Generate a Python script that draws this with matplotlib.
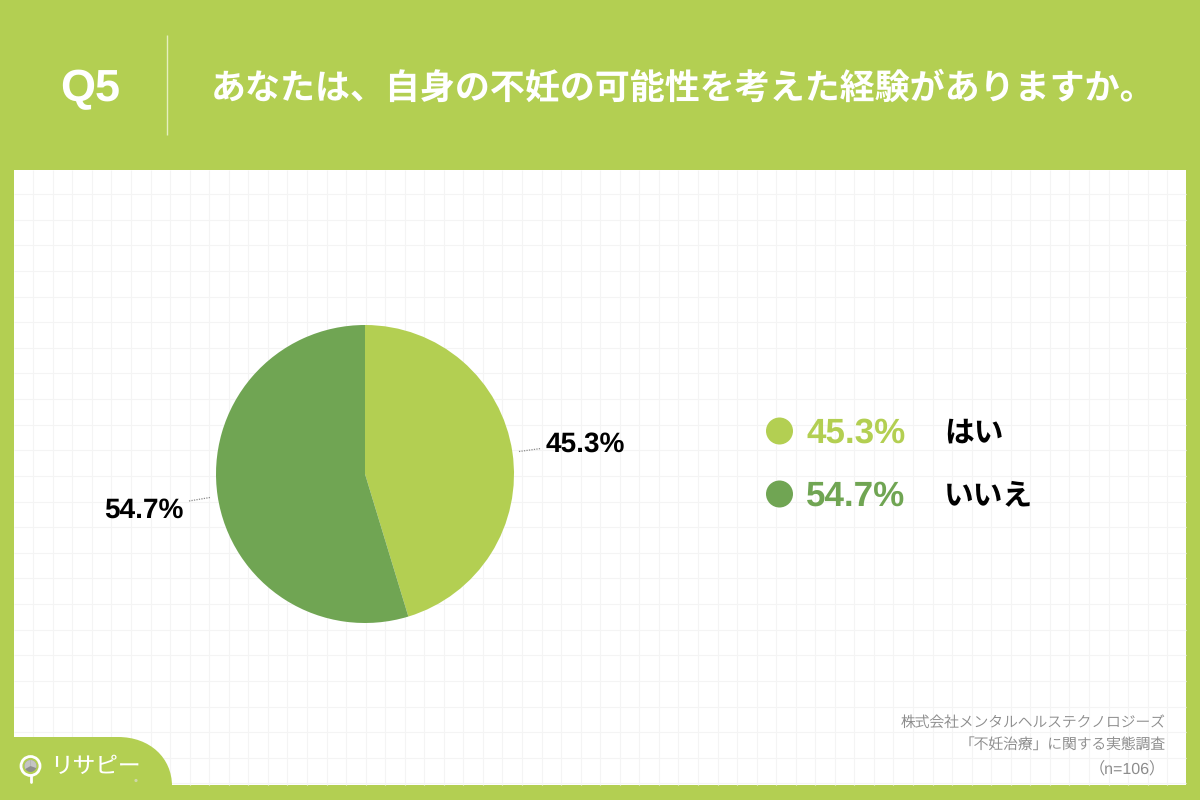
import matplotlib
matplotlib.use("Agg")
import matplotlib.pyplot as plt
import numpy as np
from matplotlib.patches import Rectangle, Circle, PathPatch, Wedge
from matplotlib.path import Path

categories = ["はい", "いいえ"]
values = [45.3, 54.7]
colors = ["#b3cf52", "#70a553"]
question = "Q5"
title = "あなたは、自身の不妊の可能性を考えた経験がありますか。"
source_lines = ["株式会社メンタルヘルステクノロジーズ", "「不妊治療」に関する実態調査", "（n=106）"]

plt.rcParams["text.hinting"] = "no_hinting"
plt.rcParams["text.hinting_factor"] = 1

JP = ["Noto Sans CJK JP", "DejaVu Sans"]
LAT = "Liberation Sans"
MIX = ["Liberation Sans", "Noto Sans CJK JP"]
GREEN = colors[0]

fig = plt.figure(figsize=(12, 8), dpi=100, facecolor=GREEN)
bg = fig.add_axes([0, 0, 1, 1])
bg.set_xlim(0, 1200)
bg.set_ylim(800, 0)
bg.axis("off")

# panel and grid
bg.add_patch(Rectangle((14, 170), 1172, 615, fc="white", ec="none", zorder=1))
for x in np.arange(33.3, 1186, 19.55):
    bg.plot([x, x], [170, 784.5], color="#f4f4f4", lw=0.85, zorder=2, solid_capstyle="butt")
for y in np.arange(194, 785, 25.63):
    bg.plot([14, 1186], [y, y], color="#f4f4f4", lw=0.85, zorder=2, solid_capstyle="butt")

# header
bg.plot([167, 167], [35, 135], color="#e6efbf", lw=1, zorder=3, solid_capstyle="butt")
bg.text(90.5, 89.5, question, family=LAT, weight="bold", fontsize=32.5, color="white",
        ha="center", va="center", zorder=4)
bg.text(683.5, 89, title, family=JP, weight="bold", fontsize=25.2, color="white",
        ha="center", va="center", zorder=4)

# logo tab
tab = Path([(14, 737), (118, 737), (150, 737), (172, 758), (172, 786), (14, 786), (14, 737)],
           [Path.MOVETO, Path.LINETO, Path.CURVE4, Path.CURVE4, Path.CURVE4, Path.LINETO, Path.CLOSEPOLY])
bg.add_patch(PathPatch(tab, fc=GREEN, ec="none", zorder=5))
bg.add_patch(Circle((30.5, 766), 9.5, fc="none", ec="white", lw=2, zorder=6))
bg.plot([30.5, 30.5], [776, 782], color="white", lw=2, zorder=6, solid_capstyle="round")
bg.add_patch(Wedge((30.5, 766), 6, 0, 360, fc="#8e8e8e", ec="none", zorder=7))
bg.add_patch(Wedge((30.5, 766), 6, 270, 20, fc="#c4c4c4", ec="none", zorder=8))
bg.add_patch(Wedge((30.5, 766), 6, 150, 270, fc="#c4c4c4", ec="none", zorder=8))
bg.text(50, 766, "リサピー", family=JP, weight="normal", fontsize=16.3, color="white",
        ha="left", va="center", zorder=6)
bg.add_patch(Circle((136, 780.5), 1.6, fc="#cfd8a8", ec="none", zorder=6))

# source
for text, y, size in zip(source_lines, [723, 746, 769], [10.6, 10.6, 11.6]):
    bg.text(1166, y, text, family=MIX, weight="light", fontsize=size, color="#8c8c8c",
            ha="right", va="center", zorder=6)

# pie
pie_ax = fig.add_axes([216 / 1200, 1 - 623 / 800, 298 / 1200, 298 / 800], zorder=3)
pie_ax.pie(values, colors=colors, startangle=90, counterclock=False, radius=1,
           wedgeprops=dict(lw=0))
pie_ax.set_xlim(-1, 1)
pie_ax.set_ylim(-1, 1)
pie_ax.patch.set_alpha(0)

fg = fig.add_axes([0, 0, 1, 1], zorder=4)
fg.set_xlim(0, 1200)
fg.set_ylim(800, 0)
fg.axis("off")

# pie labels with leaders
leaders = [([519, 541], [451.5, 448.5]), ([189, 210], [501, 497.5])]
label_pos = [(585.5, 444), (143.5, 510)]
for v, (lx, ly), (px, py) in zip(values, leaders, label_pos):
    fg.plot(lx, ly, color="#8a8a8a", lw=0.9, ls=(0, (1, 1)))
    fg.text(px, py, f"{v}%", family=LAT, weight="bold", fontsize=20, color="black",
            ha="center", va="center")

# legend
for cat, v, c, y in zip(categories, values, colors, [431, 494]):
    fg.add_patch(Circle((779.5, y), 13.5, fc=c, ec="none"))
    fg.text(856, y + 3, f"{v}%", family=LAT, weight="bold", fontsize=25.3, color=c,
            ha="center", va="center")
    fg.text(944, y + 2, cat, family=JP, weight="bold", fontsize=21.4, color="black",
            ha="left", va="center")

fig.savefig("out.png", dpi=100, facecolor=GREEN)
